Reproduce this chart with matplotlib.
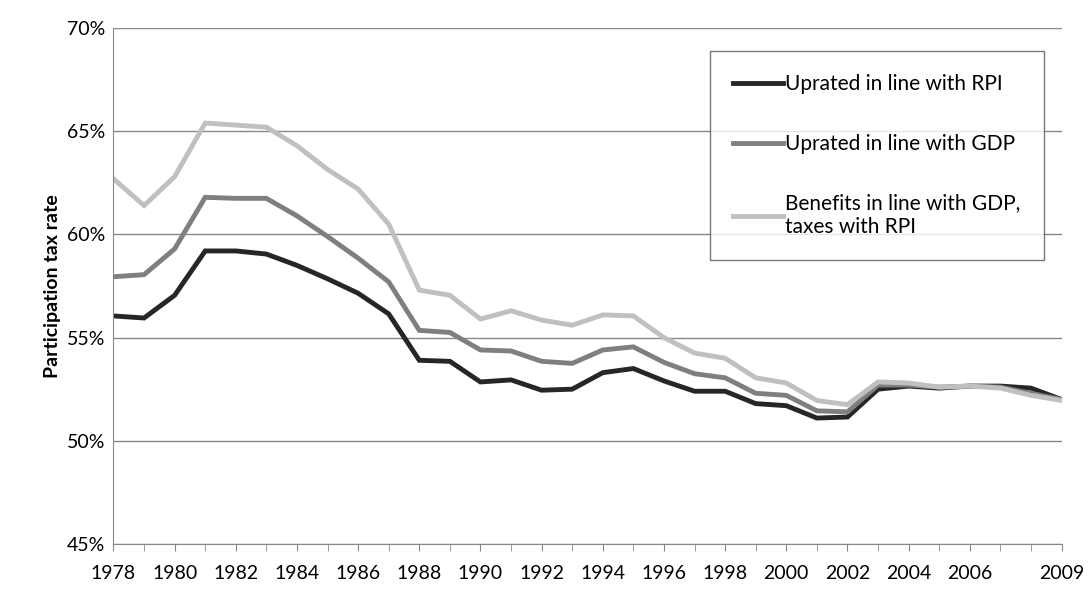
import matplotlib
matplotlib.use("Agg")
import matplotlib.pyplot as plt
from matplotlib.ticker import FixedLocator

years = list(range(1978, 2010))
rpi = [56.05, 55.95, 57.05, 59.2, 59.2, 59.05, 58.5, 57.85, 57.15, 56.15, 53.9, 53.85, 52.85, 52.95, 52.45, 52.5,
       53.3, 53.5, 52.9, 52.4, 52.4, 51.8, 51.7, 51.1, 51.15, 52.5, 52.65, 52.55, 52.65, 52.65, 52.55, 52.0]
gdp = [57.95, 58.05, 59.3, 61.8, 61.75, 61.75, 60.9, 59.9, 58.85, 57.7, 55.35, 55.25, 54.4, 54.35, 53.85, 53.75,
       54.4, 54.55, 53.8, 53.25, 53.05, 52.3, 52.2, 51.45, 51.4, 52.7, 52.7, 52.6, 52.65, 52.6, 52.3, 52.0]
mixed = [62.7, 61.4, 62.8, 65.4, 65.3, 65.2, 64.3, 63.15, 62.2, 60.5, 57.3, 57.05, 55.9, 56.3, 55.85, 55.6,
         56.1, 56.05, 55.0, 54.25, 54.0, 53.05, 52.8, 51.95, 51.75, 52.85, 52.8, 52.6, 52.65, 52.55, 52.2, 51.95]
labels = ["Uprated in line with RPI", "Uprated in line with GDP", "Benefits in line with GDP,\ntaxes with RPI"]
xtick_years = list(range(1978, 2007, 2)) + [2009]
yticks = [45, 50, 55, 60, 65, 70]

plt.rcParams['font.family'] = ['Lato', 'DejaVu Sans']
fig, ax = plt.subplots(figsize=(10.91, 5.99), dpi=100)
fig.subplots_adjust(left=0.104, right=0.973, top=0.953, bottom=0.092)

for y, c, l in zip([rpi, gdp, mixed], ["#262626", "#7f7f7f", "#c0c0c0"], labels):
    ax.plot(years, y, color=c, lw=3.5, label=l, solid_joinstyle='miter')

ax.set_xlim(1978, 2009)
ax.set_ylim(45, 70)
ax.set_yticks(yticks)
ax.set_yticklabels([f"{v}%" for v in yticks], fontsize=14)
ax.yaxis.grid(True, color="#888888", lw=1)
ax.set_axisbelow(True)
ax.set_xticks(xtick_years)
ax.set_xticklabels([str(v) for v in xtick_years], fontsize=14)
ax.xaxis.set_minor_locator(FixedLocator(years))
ax.tick_params(axis='x', which='both', length=5, color="#888888", pad=10)
ax.tick_params(axis='y', length=0, pad=6)
for s in ["top", "right"]:
    ax.spines[s].set_visible(False)
for s in ["left", "bottom"]:
    ax.spines[s].set_color("#888888")
ax.set_ylabel("Participation tax rate", fontsize=14, fontweight='bold')

leg = ax.legend(loc="upper right", bbox_to_anchor=(0.992, 0.975), fontsize=15, frameon=True, fancybox=False,
                edgecolor="#555555", handlelength=2.4, handletextpad=0.1, labelspacing=1.9,
                borderpad=1.1)
leg.get_frame().set_linewidth(1)
fig.savefig("out.png")
